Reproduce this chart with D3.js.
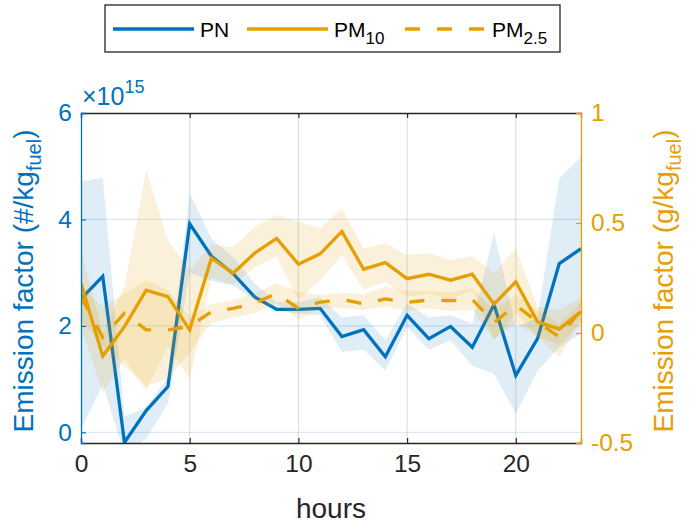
<!DOCTYPE html>
<html>
<head>
<meta charset="utf-8">
<script src="https://cdn.jsdelivr.net/npm/d3@7"></script>
<style>
  body { margin: 0; background: #fff; }
  svg { font-family: "Liberation Sans", Arial, sans-serif; }
</style>
</head>
<body>
<div id="chart"></div>
<script>
// hour of day
var hours = [0, 1, 2, 3, 4, 5, 6, 7, 8, 9, 10, 11, 12, 13, 14, 15, 16, 17, 18, 19, 20, 21, 22, 23];

// PN emission factor (x10^15 #/kg fuel), mean and band
var pn   = [2.51, 2.93, -0.19, 0.41, 0.86, 3.92, 3.31, 2.98, 2.54, 2.31, 2.31, 2.33, 1.80, 1.93, 1.42, 2.20, 1.76, 1.99, 1.60, 2.40, 1.07, 1.76, 3.17, 3.45];
var pnHi = [4.72, 4.78, 0.30, 0.47, 1.03, 4.49, 3.64, 3.29, 2.79, 2.45, 2.45, 2.54, 2.16, 2.20, 1.73, 2.42, 2.16, 2.20, 2.04, 3.76, 1.98, 2.16, 4.77, 5.17];
var pnLo = [0.05, 0.90, -0.40, -0.12, 0.54, 3.00, 2.85, 2.76, 2.48, 2.29, 2.23, 2.20, 1.51, 1.55, 1.16, 1.98, 1.55, 1.73, 1.25, 1.10, 0.35, 1.16, 1.60, 1.85];

// PM10 emission factor (g/kg fuel)
var pm10   = [0.226, -0.105, 0.029, 0.195, 0.165, 0.014, 0.340, 0.272, 0.364, 0.430, 0.313, 0.360, 0.462, 0.290, 0.320, 0.247, 0.267, 0.240, 0.267, 0.131, 0.233, 0.051, 0.018, 0.097];
var pm10Hi = [0.377, 0.000, 0.210, 0.740, 0.420, 0.286, 0.400, 0.390, 0.483, 0.536, 0.506, 0.476, 0.567, 0.385, 0.408, 0.355, 0.362, 0.332, 0.350, 0.270, 0.385, 0.120, 0.105, 0.165];
var pm10Lo = [0.030, -0.270, -0.120, -0.260, -0.060, -0.210, 0.250, 0.220, 0.300, 0.347, 0.150, 0.240, 0.355, 0.195, 0.233, 0.165, 0.180, 0.150, 0.195, -0.032, 0.090, -0.017, -0.055, 0.044];

// PM2.5 emission factor (g/kg fuel)
var pm25   = [0.165, -0.020, 0.090, 0.014, 0.014, 0.030, 0.097, 0.112, 0.135, 0.180, 0.112, 0.140, 0.152, 0.133, 0.155, 0.139, 0.150, 0.147, 0.153, 0.047, 0.127, 0.050, -0.018, 0.105];
var pm25Hi = [0.210, 0.120, 0.180, 0.240, 0.195, 0.074, 0.130, 0.150, 0.180, 0.226, 0.188, 0.173, 0.183, 0.177, 0.210, 0.190, 0.190, 0.185, 0.203, 0.105, 0.173, 0.105, 0.044, 0.140];
var pm25Lo = [0.060, -0.060, -0.150, -0.240, -0.210, -0.090, 0.045, 0.070, 0.090, 0.136, 0.060, 0.110, 0.112, 0.105, 0.120, 0.100, 0.110, 0.100, 0.105, -0.030, 0.044, -0.017, -0.108, 0.060];

// axis ticks
var xTicks = [0, 5, 10, 15, 20];
var yLeftTicks = [0, 2, 4, 6];
var yRightTicks = [-0.5, 0, 0.5, 1];

var blue = "#0072BD", orange = "#E69F00", dark = "#262626";

var W = 689, H = 525;
var margin = { top: 113, right: 108, bottom: 82, left: 81 };
var width = W - margin.left - margin.right,
    height = H - margin.top - margin.bottom;

var svg = d3.select("#chart").append("svg")
    .attr("width", W)
    .attr("height", H);

var x = d3.scaleLinear().domain([0, 23]).range([margin.left, margin.left + width]);
var yL = d3.scaleLinear().domain([-0.2, 6]).range([margin.top + height, margin.top]);
var yR = d3.scaleLinear().domain([-0.5, 1]).range([margin.top + height, margin.top]);

svg.append("clipPath").attr("id", "plotClip")
  .append("rect")
    .attr("x", margin.left).attr("y", margin.top)
    .attr("width", width).attr("height", height);

// grid
var grid = svg.append("g");
grid.selectAll(".vgrid").data(xTicks.slice(1))
  .enter().append("line")
    .attr("x1", function (d) { return x(d); }).attr("x2", function (d) { return x(d); })
    .attr("y1", margin.top).attr("y2", margin.top + height)
    .attr("stroke", dark).attr("stroke-opacity", 0.15).attr("stroke-width", 1.2);
grid.selectAll(".hgrid").data(yLeftTicks.slice(0, 3))
  .enter().append("line")
    .attr("x1", margin.left).attr("x2", margin.left + width)
    .attr("y1", function (d) { return yL(d); }).attr("y2", function (d) { return yL(d); })
    .attr("stroke", blue).attr("stroke-opacity", 0.15).attr("stroke-width", 1.2);

var plot = svg.append("g").attr("clip-path", "url(#plotClip)");

function band(lo, hi, y) {
    return d3.area()
        .x(function (d, i) { return x(hours[i]); })
        .y0(function (d, i) { return y(lo[i]); })
        .y1(function (d, i) { return y(hi[i]); })(hours);
}
function line(vals, y) {
    return d3.line()
        .x(function (d, i) { return x(hours[i]); })
        .y(function (d, i) { return y(vals[i]); })(hours);
}

// left axis series
plot.append("path").attr("d", band(pnLo, pnHi, yL))
    .attr("fill", blue).attr("fill-opacity", 0.13);
plot.append("path").attr("d", line(pn, yL))
    .attr("fill", "none").attr("stroke", blue).attr("stroke-width", 3.3);

// right axis series
plot.append("path").attr("d", band(pm10Lo, pm10Hi, yR))
    .attr("fill", orange).attr("fill-opacity", 0.14);
plot.append("path").attr("d", band(pm25Lo, pm25Hi, yR))
    .attr("fill", orange).attr("fill-opacity", 0.14);
plot.append("path").attr("d", line(pm10, yR))
    .attr("fill", "none").attr("stroke", orange).attr("stroke-width", 3.3);
plot.append("path").attr("d", line(pm25, yR))
    .attr("fill", "none").attr("stroke", orange).attr("stroke-width", 3.3)
    .attr("stroke-dasharray", "15,17");

// axes
var plain = function (d) { return String(d); };
var xAxis = d3.axisBottom(x).tickValues(xTicks).tickSize(-5).tickPadding(12).tickFormat(plain);
var xTop = d3.axisTop(x).tickValues(xTicks).tickSize(-5).tickFormat("");
var yAxisL = d3.axisLeft(yL).tickValues(yLeftTicks).tickSize(-5).tickPadding(9).tickFormat(plain);
var yAxisR = d3.axisRight(yR).tickValues(yRightTicks).tickSize(-5).tickPadding(10).tickFormat(plain);

function styleAxis(g, color) {
    g.select(".domain").attr("stroke", color).attr("stroke-width", 1.3);
    g.selectAll(".tick line").attr("stroke", color).attr("stroke-width", 1.2);
    g.selectAll(".tick text").attr("fill", color).attr("font-size", 24.5)
        .attr("font-family", "'Liberation Sans', Arial, sans-serif");
}

svg.append("g").attr("transform", "translate(0," + (margin.top + height) + ")")
    .call(xAxis).call(styleAxis, dark)
    .call(function (g) { g.selectAll(".tick text").attr("dy", "0.71em"); });
svg.append("g").attr("transform", "translate(0," + margin.top + ")")
    .call(xTop).call(styleAxis, dark);
svg.append("g").attr("transform", "translate(" + margin.left + ",0)")
    .call(yAxisL).call(styleAxis, blue);
svg.append("g").attr("transform", "translate(" + (margin.left + width) + ",0)")
    .call(yAxisR).call(styleAxis, orange);

// exponent label
var expo = svg.append("text").attr("x", 82).attr("y", 105)
    .attr("fill", blue).attr("font-size", 25);
expo.append("tspan").text("\u00d710");
expo.append("tspan").attr("dy", -12).attr("font-size", 18).text("15");

// axis labels
svg.append("text")
    .attr("x", margin.left + width / 2).attr("y", 518)
    .attr("text-anchor", "middle").attr("fill", dark).attr("font-size", 28)
    .text("hours");

function yLabel(xPos, color, unit) {
    var t = svg.append("text")
        .attr("transform", "translate(" + xPos + "," + 281 + ") rotate(-90)")
        .attr("text-anchor", "middle").attr("fill", color).attr("font-size", 28);
    t.append("tspan").text("Emission factor (" + unit + "/kg");
    t.append("tspan").attr("dy", 8).attr("font-size", 20).text("fuel");
    t.append("tspan").attr("dy", -8).text(")");
}
yLabel(33, blue, "#");
yLabel(673, orange, "g");

// legend
var legend = svg.append("g");
legend.append("rect").attr("x", 105).attr("y", 5).attr("width", 455).attr("height", 47)
    .attr("fill", "#fff").attr("stroke", dark).attr("stroke-width", 1.3);

var legendItems = [
    { name: "PN", sub: "", color: blue, dash: null, x: 113 },
    { name: "PM", sub: "10", color: orange, dash: null, x: 247 },
    { name: "PM", sub: "2.5", color: orange, dash: "15,17", x: 405 }
];
legendItems.forEach(function (d) {
    legend.append("line")
        .attr("x1", d.x).attr("x2", d.x + 81).attr("y1", 29).attr("y2", 29)
        .attr("stroke", d.color).attr("stroke-width", 3.3)
        .attr("stroke-dasharray", d.dash);
    var t = legend.append("text").attr("x", d.x + 87).attr("y", 37)
        .attr("fill", "#000").attr("font-size", 21);
    t.append("tspan").text(d.name);
    if (d.sub) t.append("tspan").attr("dy", 7).attr("font-size", 17).text(d.sub);
});
</script>
</body>
</html>
